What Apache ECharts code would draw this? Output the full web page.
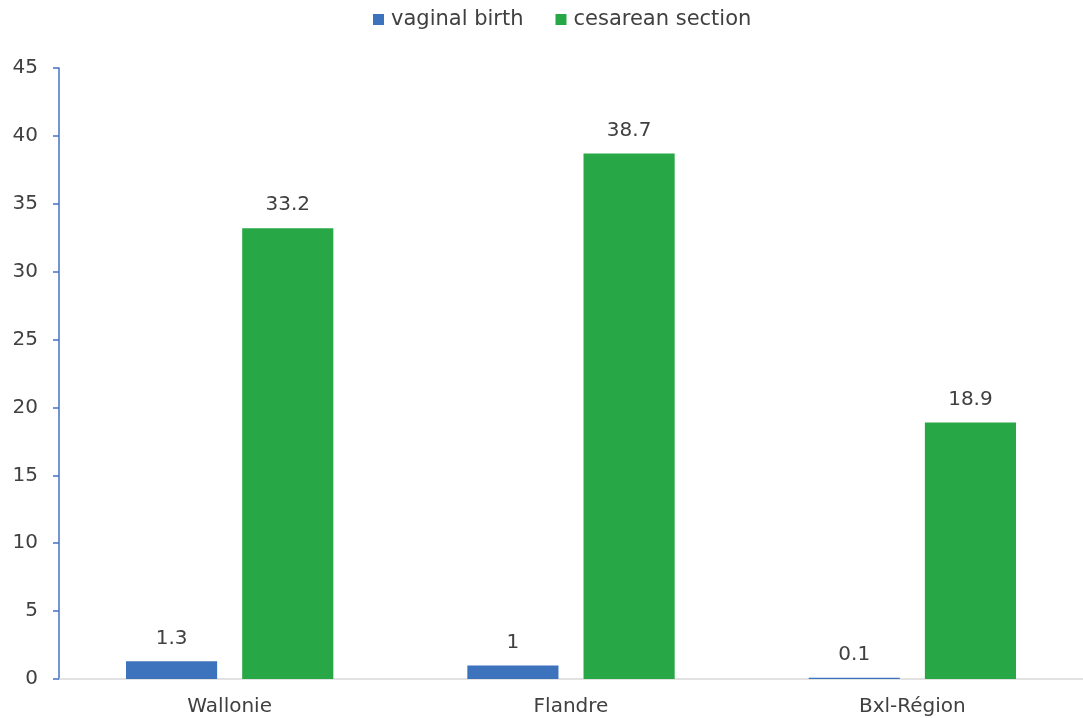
<!DOCTYPE html>
<html>
<head>
<meta charset="utf-8">
<script src="https://cdn.jsdelivr.net/npm/echarts@6/dist/echarts.min.js"></script>
<style>
  html, body { margin: 0; padding: 0; background: #fff; }
  #chart { width: 1083px; height: 718px; }
</style>
</head>
<body>
<div id="chart"></div>
<script>
// Regions and rates (%) per delivery mode
const regions = ['Wallonie', 'Flandre', 'Bxl-Région'];
const vaginalBirth = [1.3, 1, 0.1];
const cesareanSection = [33.2, 38.7, 18.9];
const seriesNames = ['vaginal birth', 'cesarean section'];

const FONT = 'DejaVu Sans';
const TEXT = '#404040';
const SIZE = 20;

const chart = echarts.init(document.getElementById('chart'));

const labelStyle = {
  show: true,
  position: 'top',
  distance: 13,
  color: TEXT,
  fontFamily: FONT,
  fontSize: SIZE
};

chart.setOption({
  animation: false,
  textStyle: { fontFamily: FONT },
  legend: {
    top: 9,
    left: 373,
    padding: 0,
    itemWidth: 11,
    itemHeight: 11,
    itemGap: 32,
    icon: 'rect',
    textStyle: { color: TEXT, fontSize: 21, fontFamily: FONT, padding: [0, 0, 0, 2] },
    data: seriesNames
  },
  grid: { left: 59, right: 0, top: 68, bottom: 39, containLabel: false },
  xAxis: {
    type: 'category',
    data: regions,
    axisLine: { lineStyle: { color: '#d9d9d9', width: 1.5 } },
    axisTick: { show: false },
    axisLabel: { color: TEXT, fontSize: SIZE, fontFamily: FONT, margin: 18 }
  },
  yAxis: {
    type: 'value',
    min: 0,
    max: 45,
    interval: 5,
    axisLine: { show: true, lineStyle: { color: '#4472C4', width: 1.5 } },
    axisTick: { show: true, length: 6, lineStyle: { color: '#4472C4', width: 1.5 } },
    splitLine: { show: false },
    axisLabel: { color: TEXT, fontSize: SIZE, fontFamily: FONT, margin: 21 }
  },
  series: [
    {
      name: seriesNames[0],
      type: 'bar',
      data: vaginalBirth,
      barWidth: '26.7%',
      barGap: '27.5%',
      itemStyle: { color: '#3D72BD' },
      label: labelStyle
    },
    {
      name: seriesNames[1],
      type: 'bar',
      data: cesareanSection,
      barWidth: '26.7%',
      itemStyle: { color: '#27A745' },
      label: labelStyle
    }
  ]
});
</script>
</body>
</html>
